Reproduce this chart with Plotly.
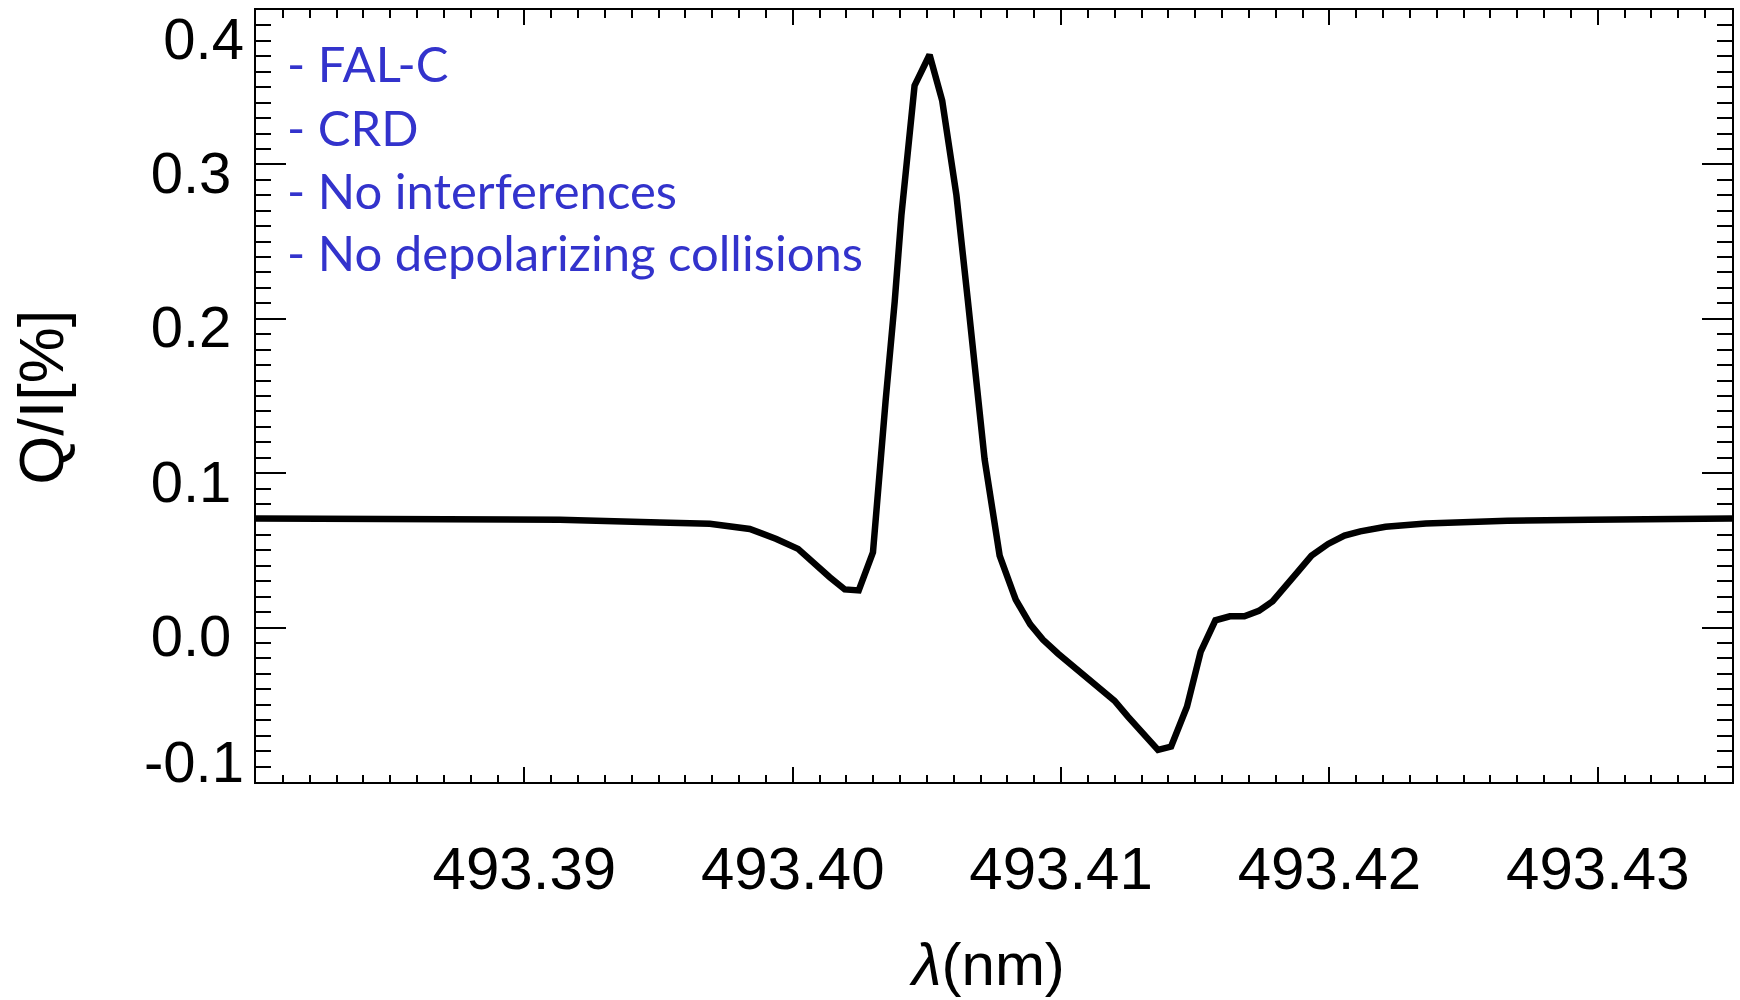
import plotly.graph_objects as go

# Data (wavelength in nm, Q/I in %)
wavelength = [
    493.38000, 493.38536, 493.39132, 493.39505, 493.39691, 493.39840, 493.39939,
    493.40020, 493.40074, 493.40138, 493.40194, 493.40246, 493.40299, 493.40324,
    493.40346, 493.40380, 493.40405, 493.40454, 493.40510, 493.40557, 493.40610,
    493.40653, 493.40696, 493.40715, 493.40771, 493.40831, 493.40885, 493.40932,
    493.40988, 493.41094, 493.41199, 493.41249, 493.41305, 493.41361, 493.41410,
    493.41469, 493.41520, 493.41575, 493.41629, 493.41683, 493.41737, 493.41788,
    493.41881, 493.41933, 493.41995, 493.42056, 493.42115, 493.42209, 493.42359,
    493.42663, 493.42968, 493.43500,
]
q_over_i = [
    0.07071, 0.07052, 0.06987, 0.06813, 0.06729, 0.06387, 0.05742,
    0.05097, 0.04232, 0.03265, 0.02471, 0.02406, 0.04877, 0.10361,
    0.14665, 0.21116, 0.26710, 0.35097, 0.37100, 0.34129, 0.28000,
    0.21116, 0.14665, 0.10903, 0.04665, 0.01806, 0.00213, -0.00774,
    -0.01677, -0.03187, -0.04735, -0.05768, -0.06903, -0.07916, -0.07703,
    -0.05123, -0.01574, 0.00471, 0.00729, 0.00729, 0.01084, 0.01697,
    0.03587, 0.04665, 0.05419, 0.05955, 0.06232, 0.06535, 0.06748,
    0.06923, 0.06987, 0.07071,
]

x_tickvals = [493.39, 493.40, 493.41, 493.42, 493.43]
x_ticktext = ["493.39", "493.40", "493.41", "493.42", "493.43"]
y_tickvals = [-0.1, 0.0, 0.1, 0.2, 0.3, 0.4]
y_ticktext = ["", "0.0", "0.1", "0.2", "0.3", ""]
y_top_val, y_top_text = [0.4], ["0.4"]
y_bot_val, y_bot_text = [-0.1], ["-0.1"]

notes = ["- FAL-C", "- CRD", "- No interferences", "- No depolarizing collisions"]

W, H = 1740, 1000
L, R, T, B = 256, 6, 9, 218
pw, ph = W - L - R, H - T - B

def px_to_paper(xp, yp):
    return (xp - L) / pw, (H - B - yp) / ph

fig = go.Figure()
fig.add_trace(go.Scatter(x=wavelength, y=q_over_i, mode="lines",
                         line=dict(color="black", width=6.5),
                         showlegend=False, hoverinfo="skip"))
fig.add_trace(go.Scatter(x=[], y=[], yaxis="y2", showlegend=False, hoverinfo="skip"))
fig.add_trace(go.Scatter(x=[], y=[], yaxis="y3", showlegend=False, hoverinfo="skip"))

tick_font = dict(family="Liberation Sans, Arial, sans-serif", size=58, color="black")
yrange = [-0.1, 0.4]
ystand = 11

fig.update_layout(
    width=W, height=H,
    margin=dict(l=L, r=R, t=T, b=B),
    paper_bgcolor="white", plot_bgcolor="white",
    xaxis=dict(
        range=[493.38, 493.435], tickmode="array", tickvals=x_tickvals, ticktext=x_ticktext,
        ticks="inside", ticklen=15, tickwidth=2, tickcolor="black",
        showline=True, linewidth=2, linecolor="black", mirror="ticks",
        showgrid=False, zeroline=False,
        minor=dict(tickmode="linear", tick0=493.38, dtick=0.001, ticks="inside",
                   ticklen=7.5, tickwidth=2, tickcolor="black", showgrid=False),
        tickfont=dict(family="Liberation Sans, Arial, sans-serif", size=60, color="black"),
        ticklabelstandoff=33,
    ),
    yaxis=dict(
        range=yrange, tickmode="array", tickvals=y_tickvals, ticktext=y_ticktext,
        ticks="inside", ticklen=30, tickwidth=2, tickcolor="black",
        showline=True, linewidth=2, linecolor="black", mirror="ticks",
        showgrid=False, zeroline=False,
        minor=dict(tickmode="linear", tick0=0, dtick=0.01, ticks="inside",
                   ticklen=15, tickwidth=2, tickcolor="black", showgrid=False),
        tickfont=tick_font, ticklabelstandoff=ystand, ticklabelshift=8,
    ),
    yaxis2=dict(
        range=yrange, overlaying="y", side="left", tickmode="array",
        tickvals=y_top_val, ticktext=y_top_text, ticks="", showline=False,
        showgrid=False, zeroline=False, tickfont=tick_font,
        ticklabelstandoff=ystand, ticklabelshift=29,
    ),
    yaxis3=dict(
        range=yrange, overlaying="y", side="left", tickmode="array",
        tickvals=y_bot_val, ticktext=y_bot_text, ticks="", showline=False,
        showgrid=False, zeroline=False, tickfont=tick_font,
        ticklabelstandoff=ystand, ticklabelshift=-20,
    ),
)

# axis titles
ax, ay = px_to_paper(988, 965)
fig.add_annotation(text="<i>λ</i>(nm)", x=ax, y=ay, xref="paper", yref="paper",
                   xanchor="center", yanchor="middle", showarrow=False,
                   font=dict(family="Liberation Sans, Arial, sans-serif", size=60, color="black"))
tx, ty = px_to_paper(41, 397)
fig.add_annotation(text="Q/I[%]", x=tx, y=ty, xref="paper", yref="paper", textangle=-90,
                   xanchor="center", yanchor="middle", showarrow=False,
                   font=dict(family="Liberation Sans, Arial, sans-serif", size=63, color="black"))

# notes
note_y = [62.5, 126.3, 189.2, 251.7]
for txt, yp in zip(notes, note_y):
    nx, ny = px_to_paper(285, yp)
    fig.add_annotation(text=txt, x=nx, y=ny, xref="paper", yref="paper",
                       xanchor="left", yanchor="middle", showarrow=False,
                       font=dict(family="Lato, Noto Sans, sans-serif", size=49, color="#3333CC"))

fig.write_html("out.html", config={"displayModeBar": False},
               post_script="document.body.style.margin='0';document.body.style.overflow='hidden';")
